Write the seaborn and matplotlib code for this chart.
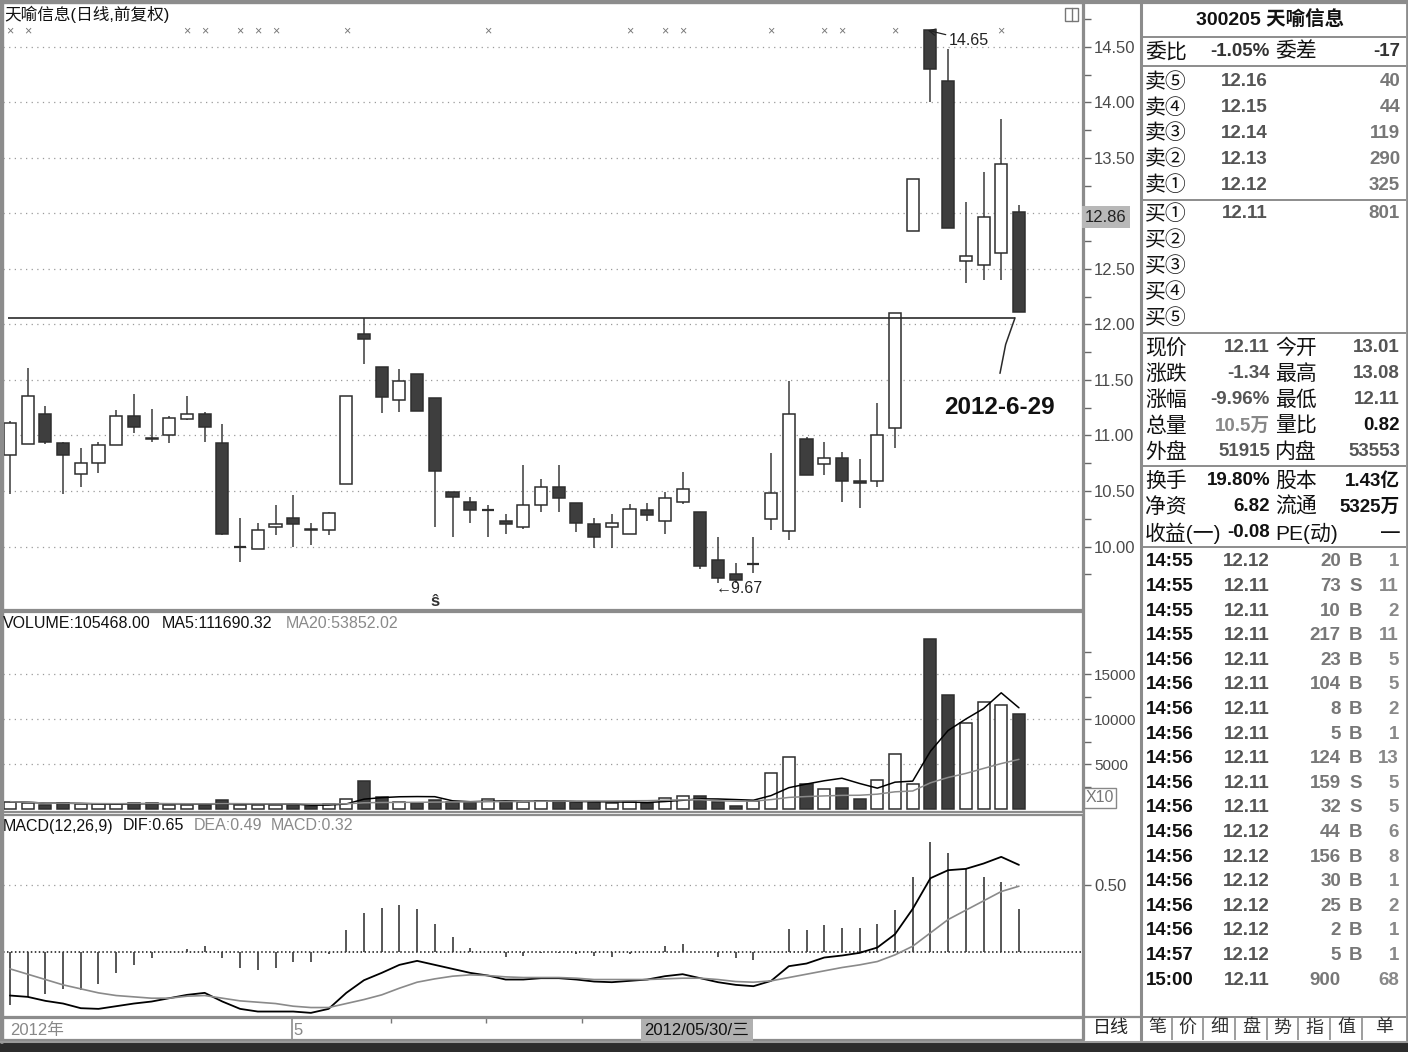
import numpy as np
import pandas as pd
import matplotlib
matplotlib.use('Agg')
import matplotlib.pyplot as plt
import matplotlib.transforms as mtransforms
import seaborn as sns
from matplotlib.patches import Rectangle
from matplotlib.lines import Line2D

# ---- daily K-line data ----
opens = [10.82, 10.92, 11.19, 10.93, 10.65, 10.75, 10.91, 11.18, 10.98, 11.00,
         11.15, 11.19, 10.93, 10.00, 9.98, 10.18, 10.26, 10.16, 10.15, 10.56,
         11.91, 11.62, 11.32, 11.55, 11.34, 10.49, 10.40, 10.33, 10.23, 10.18,
         10.37, 10.54, 10.39, 10.20, 10.18, 10.11, 10.33, 10.23, 10.40, 10.31,
         9.88, 9.75, 9.84, 10.25, 10.14, 10.97, 10.74, 10.80, 10.59, 10.59,
         11.07, 12.84, 14.65, 14.19, 12.57, 12.54, 12.64, 13.01]
highs = [11.13, 11.61, 11.27, 10.94, 10.89, 10.94, 11.23, 11.37, 11.24, 11.18,
         11.36, 11.21, 11.10, 10.26, 10.21, 10.37, 10.46, 10.21, 10.31, 11.36,
         12.06, 11.62, 11.60, 11.55, 11.34, 10.49, 10.45, 10.37, 10.29, 10.73,
         10.61, 10.73, 10.39, 10.26, 10.29, 10.38, 10.39, 10.49, 10.67, 10.31,
         10.09, 9.85, 10.09, 10.84, 11.49, 10.99, 10.94, 10.85, 10.79, 11.29,
         12.10, 13.31, 14.65, 14.48, 13.10, 13.37, 13.85, 13.08]
lows = [10.47, 10.92, 10.92, 10.47, 10.54, 10.66, 10.91, 11.02, 10.94, 10.93,
        11.14, 10.94, 10.10, 9.86, 9.98, 10.10, 10.00, 10.01, 10.10, 10.56,
        11.64, 11.20, 11.21, 11.22, 10.18, 10.09, 10.21, 10.09, 10.11, 10.16,
        10.31, 10.31, 10.13, 9.99, 9.99, 10.11, 10.23, 10.11, 10.38, 9.80,
        9.67, 9.67, 9.76, 10.15, 10.06, 10.64, 10.64, 10.40, 10.35, 10.54,
        10.89, 12.84, 14.00, 12.87, 12.37, 12.40, 12.40, 12.11]
closes = [11.11, 11.36, 10.94, 10.82, 10.75, 10.91, 11.18, 11.08, 10.97, 11.16,
          11.19, 11.08, 10.11, 10.00, 10.15, 10.20, 10.20, 10.15, 10.30, 11.36,
          11.87, 11.35, 11.49, 11.22, 10.68, 10.45, 10.33, 10.33, 10.20, 10.37,
          10.54, 10.44, 10.21, 10.09, 10.21, 10.34, 10.28, 10.44, 10.52, 9.82,
          9.72, 9.70, 9.84, 10.48, 11.19, 10.64, 10.80, 10.59, 10.57, 11.00,
          12.10, 13.31, 14.30, 12.87, 12.62, 12.97, 13.45, 12.11]
# volume in units of 10 shares (axis marked X10)
volumes = [810, 700, 444, 630, 520, 520, 520, 700, 700, 444,
           444, 444, 1000, 444, 444, 444, 444, 333, 520, 1070,
           3100, 1300, 810, 630, 1000, 810, 810, 1070, 810, 810,
           890, 925, 740, 740, 630, 810, 700, 1255, 1440, 1440,
           740, 370, 888, 4030, 5810, 2775, 2185, 2295, 1110, 3220,
           6100, 2775, 18870, 12650, 9580, 11910, 11540, 10547]
dif = [-0.33, -0.34, -0.37, -0.39, -0.425, -0.43, -0.41, -0.39, -0.375, -0.35,
       -0.325, -0.31, -0.375, -0.43, -0.45, -0.45, -0.45, -0.46, -0.43, -0.31,
       -0.215, -0.16, -0.10, -0.07, -0.10, -0.13, -0.16, -0.18, -0.21, -0.21,
       -0.20, -0.20, -0.21, -0.225, -0.23, -0.22, -0.21, -0.185, -0.17, -0.20,
       -0.23, -0.25, -0.26, -0.22, -0.11, -0.09, -0.045, -0.03, -0.01, 0.03,
       0.13, 0.32, 0.55, 0.61, 0.62, 0.66, 0.71, 0.65]
dea = [-0.13, -0.17, -0.21, -0.25, -0.28, -0.31, -0.33, -0.34, -0.35, -0.35,
       -0.335, -0.33, -0.35, -0.37, -0.38, -0.39, -0.41, -0.42, -0.42, -0.39,
       -0.36, -0.325, -0.275, -0.23, -0.205, -0.185, -0.175, -0.18, -0.19, -0.195,
       -0.195, -0.195, -0.20, -0.21, -0.21, -0.21, -0.21, -0.205, -0.20, -0.20,
       -0.21, -0.225, -0.23, -0.22, -0.195, -0.17, -0.145, -0.12, -0.10, -0.075,
       -0.025, 0.04, 0.14, 0.24, 0.31, 0.38, 0.45, 0.49]
flag_days = [0, 1, 10, 11, 13, 14, 15, 19, 27, 35, 37, 38, 43, 46, 47, 50, 56]

# ---- quote panel text ----
header = '300205 天喻信息'
ask_labels = ['卖⑤', '卖④', '卖③', '卖②', '卖①']
ask_prices = ['12.16', '12.15', '12.14', '12.13', '12.12']
ask_vols = ['40', '44', '119', '290', '325']
bid_labels = ['买①', '买②', '买③', '买④', '买⑤']
bid_prices = ['12.11', '', '', '', '']
bid_vols = ['801', '', '', '', '']
stat_rows = [('现价', '12.11', '今开', '13.01'), ('涨跌', '-1.34', '最高', '13.08'),
             ('涨幅', '-9.96%', '最低', '12.11'), ('总量', '10.5万', '量比', '0.82'),
             ('外盘', '51915', '内盘', '53553')]
stat_rows2 = [('换手', '19.80%', '股本', '1.43亿'), ('净资', '6.82', '流通', '5325万'),
              ('收益(一)', '-0.08', 'PE(动)', '—')]
tick_times = ['14:55', '14:55', '14:55', '14:55', '14:56', '14:56', '14:56', '14:56', '14:56',
              '14:56', '14:56', '14:56', '14:56', '14:56', '14:56', '14:56', '14:57', '15:00']
tick_prices = ['12.12', '12.11', '12.11', '12.11', '12.11', '12.11', '12.11', '12.11', '12.11',
               '12.11', '12.11', '12.12', '12.12', '12.12', '12.12', '12.12', '12.12', '12.11']
tick_vols = ['20', '73', '10', '217', '23', '104', '8', '5', '124',
             '159', '32', '44', '156', '30', '25', '2', '5', '900']
tick_sides = ['B', 'S', 'B', 'B', 'B', 'B', 'B', 'B', 'B', 'S', 'S', 'B', 'B', 'B', 'B', 'B', 'B', '']
tick_counts = ['1', '11', '2', '11', '5', '5', '2', '1', '13', '5', '5', '6', '8', '1', '2', '1', '1', '68']
tabs = ['笔', '价', '细', '盘', '势', '指', '值', '单']

sns.set_style('white')
plt.rcParams['font.family'] = ['Liberation Sans', 'Noto Sans CJK SC', 'DejaVu Sans']

df = pd.DataFrame({'open': opens, 'high': highs, 'low': lows, 'close': closes, 'vol': volumes,
                   'dif': dif, 'dea': dea})
df['i'] = np.arange(len(df))
df['up'] = df['close'] >= df['open']
df['ma5'] = df['vol'].rolling(5, min_periods=1).mean()
df['ma20'] = df['vol'].rolling(20, min_periods=1).mean()
df['macd'] = 2 * (df['dif'] - df['dea'])

W, H = 1408, 1052
fig = plt.figure(figsize=(W / 100, H / 100), dpi=100)
fig.patch.set_facecolor('white')


def pax(x0, y0, x1, y1):
    return fig.add_axes([x0 / W, 1 - y1 / H, (x1 - x0) / W, (y1 - y0) / H])


def ftext(x, y, s, **kw):
    kw.setdefault('va', 'center')
    fig.text(x / W, 1 - y / H, s, **kw)


def fline(x0, y0, x1, y1, **kw):
    fig.add_artist(Line2D([x0 / W, x1 / W], [1 - y0 / H, 1 - y1 / H], **kw))


XL = (-0.395, 60.62)
BW = 0.68
DARK = '#3e3e3e'
EDGE = '#2e2e2e'
GRIDC = '#9a9a9a'
FRAME = '#8c8c8c'
fill = np.where(df['up'], 'white', DARK)


def style(ax, size=12):
    for s in ax.spines.values():
        s.set_color(FRAME)
        s.set_linewidth(1.6)
    ax.set_xlim(XL)
    ax.set_xlabel('')
    ax.set_ylabel('')
    ax.tick_params(axis='x', bottom=False, labelbottom=False)
    ax.yaxis.tick_right()
    ax.tick_params(axis='y', which='both', direction='out', length=6, width=1,
                   color='#666666', labelsize=size, labelcolor='#4a4a4a', pad=2)


def dots(ax, ys, color=GRIDC, dash=(1, 3.5)):
    for y in ys:
        ax.axhline(y, color=color, lw=0.9, ls=(0, dash), zorder=0)


# ---- price panel ----
ax = pax(3, 3, 1083, 610)
ax.set_ylim(9.428, 14.896)
style(ax)
pticks = np.arange(10, 14.51, 0.5)
dots(ax, pticks)
ax.set_yticks(pticks)
ax.set_yticklabels(['' if abs(t - 13) < 1e-6 else f'{t:.2f}' for t in pticks])
ax.set_yticks(np.arange(9.75, 14.9, 0.5), minor=True)
ax.vlines(df['i'], df['low'], df['high'], color='#3a3a3a', lw=1.1, zorder=2)
body = (df['close'] - df['open']).abs()
flat = body < 0.005
ax.bar(df['i'][~flat], body[~flat], bottom=df[['open', 'close']].min(axis=1)[~flat],
       width=BW, color=fill[~flat], edgecolor=EDGE, lw=1.1, zorder=3)
ax.hlines(df['open'][flat], df['i'][flat] - BW / 2, df['i'][flat] + BW / 2, color=EDGE, lw=1.6, zorder=3)

# resistance line at the earlier high
i_res = int(df['high'][:30].idxmax())
last = int(df['i'].iloc[-1])
ax.hlines(df['high'][i_res], -0.1, last - 0.2, color='#2a2a2a', lw=1.2, zorder=4)
ax.plot([last - 1.07, last - 0.75, last - 0.22], [11.56, 11.82, df['high'][i_res]],
        color='#2a2a2a', lw=1.1, zorder=4)
ax.text(last - 1.1, 11.25, '2012-6-29', ha='center', va='center', fontsize=17.5,
        weight='bold', color='#111111')
i_hi = int(df['high'].idxmax())
ax.annotate(f"{df['high'][i_hi]:.2f}", xy=(i_hi - 0.15, df['high'][i_hi]),
            xytext=(i_hi + 1.05, 14.56), fontsize=11.5, color='#222222', va='center',
            arrowprops=dict(arrowstyle='->', lw=0.9, color='#222222', shrinkA=0, shrinkB=0))
i_lo = int(df['low'].idxmin())
ax.text(i_lo - 0.15, df['low'][i_lo] - 0.045, f"←{df['low'][i_lo]:.2f}", fontsize=11.5,
        color='#222222', va='center', ha='left', family=['Liberation Sans', 'DejaVu Sans'])
xt = mtransforms.blended_transform_factory(ax.transData, ax.transAxes)
for d in flag_days:
    ax.text(d, 0.9535, '×', transform=xt, ha='center', va='center', fontsize=9, color='#777777')
ax.text(24, 0.0135, 'ŝ', transform=xt, ha='center', va='center', fontsize=12, weight='bold', color='#333333')
ftext(4, 14, '天喻信息(日线,前复权)', fontsize=12, color='#111111')
ftext(1085, 217, '12.86', fontsize=12, color='#222222',
      bbox=dict(facecolor='#b8b8b8', edgecolor='none', pad=2.5))
fig.add_artist(Rectangle(((1065) / W, 1 - 21 / H), 13 / W, 13 / H, transform=fig.transFigure,
                         fill=False, edgecolor='#777777', lw=1))
fline(1072, 8, 1072, 21, color='#777777', lw=1)

# ---- volume panel ----
av = pax(3, 612, 1083, 812)
av.set_ylim(-333, 21889)
dots(av, [5000, 10000, 15000])
av.bar(df['i'], df['vol'], width=BW, color=fill, edgecolor=EDGE, lw=1.1, zorder=3)
sns.lineplot(data=df, x='i', y='ma5', ax=av, color='black', lw=1.1, zorder=4)
sns.lineplot(data=df, x='i', y='ma20', ax=av, color='#8a8a8a', lw=1.1, zorder=4)
style(av, size=11)
av.set_yticks([5000, 10000, 15000])
av.set_yticks([2500, 7500, 12500, 17500], minor=True)
ftext(3, 623, 'VOLUME:105468.00', fontsize=11.5, color='#111111')
ftext(162, 623, 'MA5:111690.32', fontsize=11.5, color='#111111')
ftext(286, 623, 'MA20:53852.02', fontsize=11.5, color='#8a8a8a')
ftext(1086, 798, 'X10', fontsize=11.5, color='#777777',
      bbox=dict(facecolor='white', edgecolor='#888888', pad=1.5))

# ---- MACD panel ----
am = pax(3, 815, 1083, 1017)
am.set_ylim(-0.491, 1.024)
dots(am, [0.5])
am.axhline(0, color='#111111', lw=1.1, ls=(0, (1, 1.6)), zorder=1)
am.vlines(df['i'], 0, df['macd'], color='#3a3a3a', lw=1.2, zorder=2)
sns.lineplot(data=df, x='i', y='dif', ax=am, color='black', lw=1.3, zorder=4)
sns.lineplot(data=df, x='i', y='dea', ax=am, color='#8a8a8a', lw=1.2, zorder=4)
style(am)
am.set_yticks([0.5])
am.set_yticklabels(['0.50'])
ftext(3, 826, 'MACD(12,26,9)', fontsize=11.5, color='#111111')
ftext(123, 826, f"DIF:{dif[-1]:.2f}", fontsize=11.5, color='#111111')
ftext(194, 826, f"DEA:{dea[-1]:.2f}", fontsize=11.5, color='#8a8a8a')
ftext(271, 826, f"MACD:{df['macd'].iloc[-1]:.2f}", fontsize=11.5, color='#8a8a8a')

# ---- date strip ----
ad = pax(3, 1018, 1083, 1040)
ad.set_xlim(XL)
ad.set_ylim(0, 1)
ad.set_xticks([])
ad.set_yticks([])
for s in ad.spines.values():
    s.set_color(FRAME)
    s.set_linewidth(1.6)
ad.text(0.0, 0.45, '2012年', fontsize=12, color='#888888', va='center', ha='left')
ad.axvline(15.93, color=FRAME, lw=1.2)
ad.text(16.03, 0.45, '5', fontsize=12, color='#888888', va='center', ha='left')
for t in [21.5, 26.9, 32.3]:
    ad.vlines(t, 0.78, 1, color='#777777', lw=1)
ad.text(38.8, 0.45, '2012/05/30/三', fontsize=12, color='#111111', va='center', ha='center',
        bbox=dict(facecolor='#b0b0b0', edgecolor='none', pad=2.5))
ftext(1111, 1028, '日线', fontsize=13, color='#222222', ha='center')

# ---- frame ----
fline(0, 1.5, W, 1.5, color=FRAME, lw=3)
fline(1.5, 0, 1.5, 1042, color=FRAME, lw=3)
fline(1083.5, 3, 1083.5, 1040, color=FRAME, lw=1.6)
fline(1141, 3, 1141, 1040, color=FRAME, lw=2.2)
fline(1406.5, 3, 1406.5, 1040, color=FRAME, lw=2)
fline(1083, 1017, 1141, 1017, color=FRAME, lw=1.6)
fig.add_artist(Rectangle((0, 0), 1, 10 / H, transform=fig.transFigure, color='#2c2c2c'))
fline(0, 1042, W, 1042, color='#9a9a9a', lw=1.5)

# ---- quote panel ----
rp = pax(1142, 3, 1406, 1040)
rp.set_xlim(1142, 1406)
rp.set_ylim(1040, 3)
rp.axis('off')
LBL = dict(fontsize=15, color='#111111', va='center', ha='left')


def num(x, y, s, color='#555555', ha='right', size=13.5, weight='bold'):
    rp.text(x, y, s, fontsize=size, color=color, va='center', ha=ha, weight=weight)


rp.text(1270, 20, header, fontsize=14, weight='bold', color='#111111', ha='center', va='center')
for y in [37, 66, 200, 333, 466, 547, 1017]:
    rp.hlines(y, 1142, 1406, color=FRAME, lw=1.4)
rp.text(1145, 52, '委比', **LBL)
num(1270, 52, '-1.05%', color='#333333')
rp.text(1275, 52, '委差', **LBL)
num(1400, 52, '-17', color='#333333')
for k in range(5):
    y = 82 + k * 25.8
    rp.text(1145, y, ask_labels[k], **LBL)
    num(1268, y, ask_prices[k])
    num(1400, y, ask_vols[k], color='#777777')
    y = 214 + k * 26
    rp.text(1145, y, bid_labels[k], **LBL)
    num(1268, y, bid_prices[k])
    num(1400, y, bid_vols[k], color='#777777')
for k, (l1, v1, l2, v2) in enumerate(stat_rows):
    y = 348 + k * 26
    rp.text(1145, y, l1, **LBL)
    num(1270, y, v1, color='#888888' if '万' in v1 else '#555555')
    rp.text(1275, y, l2, **LBL)
    num(1400, y, v2, color='#111111' if l2 == '量比' else '#555555')
for k, (l1, v1, l2, v2) in enumerate(stat_rows2):
    y = 481 + k * 26
    rp.text(1145, y, l1, **LBL)
    num(1270, y, v1, color='#111111')
    rp.text(1275, y, l2, **LBL)
    num(1400, y, v2, color='#111111')
for k in range(len(tick_times)):
    y = 562 + k * 24.6
    num(1146, y, tick_times[k], color='#111111', ha='left')
    num(1270, y, tick_prices[k], color='#555555')
    num(1341, y, tick_vols[k], color='#777777')
    num(1356, y, tick_sides[k], color='#777777', ha='center')
    num(1399, y, tick_counts[k], color='#888888')
tab_edges = [1142, 1172, 1203, 1235, 1267, 1298, 1330, 1362, 1406]
for k, t in enumerate(tabs):
    rp.text((tab_edges[k] + tab_edges[k + 1]) / 2, 1028, t, fontsize=13, color='#333333',
            ha='center', va='center')
    if 0 < k:
        rp.vlines(tab_edges[k], 1018, 1040, color=FRAME, lw=1.2)

fig.savefig('out.png', dpi=100)
